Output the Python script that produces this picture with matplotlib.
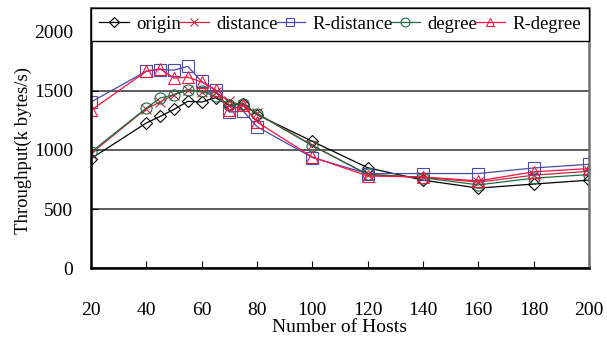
import matplotlib
matplotlib.use("Agg")
import matplotlib.pyplot as plt

hosts = [20, 40, 45, 50, 55, 60, 65, 70, 75, 80, 100, 120, 140, 160, 180, 200]
origin = [927, 1228, 1284, 1343, 1411, 1405, 1442, 1377, 1391, 1299, 1073, 850, 745, 678, 712, 745]
distance = [970, 1349, 1405, 1467, 1509, 1489, 1489, 1410, 1380, 1310, 1040, 790, 770, 728, 787, 820]
r_distance = [1405, 1666, 1680, 1675, 1706, 1579, 1509, 1320, 1329, 1197, 936, 800, 801, 801, 848, 879]
degree = [983, 1354, 1439, 1467, 1509, 1495, 1453, 1383, 1391, 1307, 1036, 795, 765, 705, 762, 792]
r_degree = [1335, 1666, 1686, 1607, 1616, 1573, 1509, 1335, 1377, 1236, 941, 780, 772, 739, 815, 843]

x_ticks = [20, 40, 60, 80, 100, 120, 140, 160, 180, 200]
y_ticks = [0, 500, 1000, 1500, 2000]

plt.rcParams['font.family'] = ['Liberation Serif', 'DejaVu Serif']

fig = plt.figure(figsize=(6.07, 3.46), dpi=100)
ax = fig.add_axes([91/607, 1 - 268.3/346, (589-91)/607, (268.3-8)/346])

series = [
    ("origin", origin, "black", "D", 6),
    ("distance", distance, "#c8283c", "x", 7),
    ("R-distance", r_distance, "#4a4aa8", "s", 8),
    ("degree", degree, "#1f6b40", "o", 8),
    ("R-degree", r_degree, "#ff1040", "^", 8),
]
for name, vals, col, mk, ms in series:
    ax.plot(hosts, vals, color=col, marker=mk, markersize=ms, markerfacecolor="none",
            markeredgecolor=col, markeredgewidth=0.8, linewidth=0.9, label=name)

ax.set_xlim(20, 200)
ax.set_ylim(0, 2200)
ax.set_xticks(x_ticks)
ax.set_yticks(y_ticks)
ax.yaxis.grid(True, color="#505050", linewidth=1.3)
ax.set_axisbelow(True)
ax.tick_params(axis="x", direction="in", length=5, pad=24, labelsize=14)
ax.tick_params(axis="y", direction="in", length=5, pad=13, labelsize=14)
for s in ["left", "bottom"]:
    ax.spines[s].set_linewidth(1.8)
    ax.spines[s].set_color("black")
ax.spines["right"].set_color("#707070")
ax.spines["right"].set_linewidth(1.8)
ax.spines["top"].set_color("#606060")
ax.spines["top"].set_linewidth(1.2)

ax.set_xlabel("Number of Hosts", fontsize=14)
ax.xaxis.set_label_coords(0.5, -(327 - 268.3) / 260.3)
ax.xaxis.label.set_va("center")
ax.set_ylabel("Throughput(k bytes/s)", fontsize=13.5)
ax.yaxis.set_label_coords((32 - 91) / 498, (268.3 - 151) / 260.3)

leg = ax.legend(loc="upper left", bbox_to_anchor=(0, 1, 1, 0), mode="expand", ncol=5,
                fontsize=13.5, frameon=True, fancybox=False, edgecolor="black",
                borderaxespad=0, handlelength=1.6, handletextpad=0.4, columnspacing=0.6,
                borderpad=0.42, markerscale=0.8)
leg.get_frame().set_linewidth(1.0)
leg.get_frame().set_alpha(1)

fig.savefig("out.png", dpi=100)
